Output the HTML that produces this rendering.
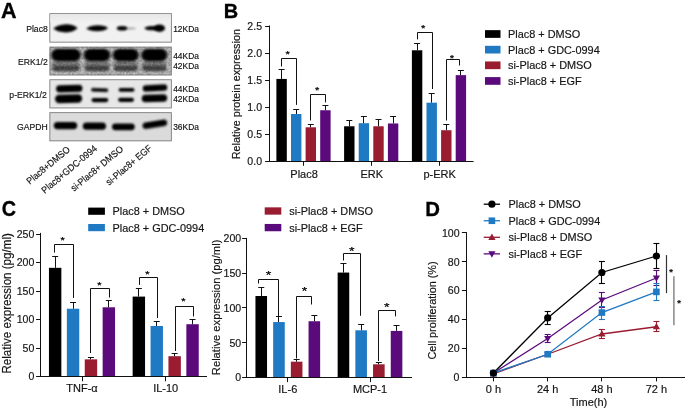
<!DOCTYPE html>
<html><head><meta charset="utf-8"><style>
html,body{margin:0;padding:0;background:#fff;}
svg{display:block;font-family:"Liberation Sans",sans-serif;}
text{filter:grayscale(1);stroke:#151515;stroke-width:0.18px;}
</style></head><body>
<svg width="685" height="410" viewBox="0 0 685 410">
<rect width="685" height="410" fill="#fff"/>
<defs>
<filter id="bl1" x="-30%" y="-100%" width="160%" height="300%"><feGaussianBlur stdDeviation="1.1 1.0"/></filter>
<filter id="bl3" x="-30%" y="-100%" width="160%" height="300%"><feGaussianBlur stdDeviation="1.6 1.3"/></filter>
<filter id="bl2" x="-30%" y="-100%" width="160%" height="300%"><feGaussianBlur stdDeviation="1.8 1.8"/></filter>
<linearGradient id="haze" x1="0" y1="0" x2="0" y2="1"><stop offset="0" stop-color="#e6e6e6"/><stop offset="1" stop-color="#f1f1f1"/></linearGradient>
<filter id="noise" x="0" y="0" width="100%" height="100%"><feTurbulence type="fractalNoise" baseFrequency="0.45" numOctaves="2" seed="3"/><feColorMatrix type="matrix" values="0 0 0 0 0  0 0 0 0 0  0 0 0 0 0  0.0 0 0 0.5 -0.15"/></filter>
</defs>
<text transform="translate(0.9 17.95) scale(1 1)" font-size="21.5" font-weight="bold" fill="#000" style="stroke:#000;stroke-width:0.35px">A</text>
<rect x="49.4" y="13.2" width="122.4" height="29.4" fill="#7a7a7a" />
<rect x="50.3" y="14.1" width="120.6" height="27.6" fill="#f1f1f1" />
<rect x="50.3" y="14.1" width="120.6" height="8" fill="url(#haze)"/>
<path d="M53.3,28.6 Q58,24.6 66,24.3 Q74,24.3 77.6,28.1 Q74,32.3 66,32.5 Q58,32.4 53.3,28.6Z" fill="#000" filter="url(#bl1)"/>
<path d="M86.2,28.5 Q91,25.3 98,25.3 Q105,25.5 108,28 Q104.5,31.2 97,31.3 Q90,31.2 86.2,28.5Z" fill="#000" filter="url(#bl1)"/>
<ellipse cx="122" cy="28.3" rx="5.2" ry="2.3" fill="#000" opacity="1" filter="url(#bl1)"/>
<ellipse cx="130" cy="28.4" rx="6" ry="1" fill="#000" opacity="0.35" filter="url(#bl1)"/>
<ellipse cx="152" cy="28.2" rx="7.5" ry="2.1" fill="#000" opacity="1" filter="url(#bl1)"/>
<ellipse cx="159.5" cy="28.2" rx="5.5" ry="3.7" fill="#000" opacity="1" filter="url(#bl1)"/>
<rect x="49.4" y="46.6" width="122.4" height="28.9" fill="#7a7a7a" />
<rect x="50.3" y="47.5" width="120.6" height="27.1" fill="#c0c0c0" />
<rect x="52" y="59.55" width="28" height="11.5" rx="5.75" ry="5.75" fill="#6e6e6e" opacity="0.8" filter="url(#bl2)"/>
<rect x="52.5" y="66.1" width="27" height="4.6" rx="2.3" ry="2.3" fill="#3a3a3a" opacity="0.85" filter="url(#bl1)"/>
<rect x="51.2" y="48.9" width="29.6" height="12.2" rx="6.1" ry="6.1" fill="#000" opacity="1" filter="url(#bl3)"/>
<rect x="84.5" y="59.55" width="25" height="11.5" rx="5.75" ry="5.75" fill="#6e6e6e" opacity="0.8" filter="url(#bl2)"/>
<rect x="85" y="66.1" width="24" height="4.6" rx="2.3" ry="2.3" fill="#3a3a3a" opacity="0.85" filter="url(#bl1)"/>
<rect x="83.7" y="48.9" width="26.6" height="12.2" rx="6.1" ry="6.1" fill="#000" opacity="1" filter="url(#bl3)"/>
<rect x="113.5" y="59.55" width="24.5" height="11.5" rx="5.75" ry="5.75" fill="#6e6e6e" opacity="0.8" filter="url(#bl2)"/>
<rect x="114" y="66.1" width="23.5" height="4.6" rx="2.3" ry="2.3" fill="#3a3a3a" opacity="0.85" filter="url(#bl1)"/>
<rect x="112.7" y="48.9" width="26.1" height="12.2" rx="6.1" ry="6.1" fill="#000" opacity="1" filter="url(#bl3)"/>
<rect x="142" y="59.55" width="24.5" height="11.5" rx="5.75" ry="5.75" fill="#6e6e6e" opacity="0.8" filter="url(#bl2)"/>
<rect x="142.5" y="66.1" width="23.5" height="4.6" rx="2.3" ry="2.3" fill="#3a3a3a" opacity="0.85" filter="url(#bl1)"/>
<rect x="141.2" y="48.9" width="26.1" height="12.2" rx="6.1" ry="6.1" fill="#000" opacity="1" filter="url(#bl3)"/>
<rect x="50.3" y="47.5" width="120.6" height="27.1" filter="url(#noise)"/>
<rect x="49.4" y="79.3" width="122.4" height="29.1" fill="#7a7a7a" />
<rect x="50.3" y="80.2" width="120.6" height="27.3" fill="#e7e7e7" />
<rect x="56" y="85" width="26.5" height="7.2" rx="3.6" ry="3.6" fill="#000" opacity="1" filter="url(#bl1)" transform="rotate(-1.5 69.25 88.6)"/>
<rect x="55" y="94.5" width="27.2" height="8.4" rx="4.2" ry="4.2" fill="#000" opacity="1" filter="url(#bl1)" transform="rotate(-1.5 68.6 98.7)"/>
<rect x="91" y="88.2" width="17.3" height="3.6" rx="1.8" ry="1.8" fill="#000" opacity="1" filter="url(#bl1)" transform="rotate(2 99.65 90)"/>
<rect x="91.5" y="98" width="16.8" height="4.2" rx="2.1" ry="2.1" fill="#000" opacity="1" filter="url(#bl1)"/>
<rect x="118.6" y="88.1" width="15.9" height="3.6" rx="1.8" ry="1.8" fill="#000" opacity="1" filter="url(#bl1)"/>
<rect x="118.1" y="97.7" width="15.9" height="4.2" rx="2.1" ry="2.1" fill="#000" opacity="1" filter="url(#bl1)"/>
<rect x="142.7" y="84.7" width="24.6" height="6.6" rx="3.3" ry="3.3" fill="#000" opacity="1" filter="url(#bl1)" transform="rotate(-3 155 88)"/>
<rect x="141.7" y="94.4" width="25.5" height="7.6" rx="3.8" ry="3.8" fill="#000" opacity="1" filter="url(#bl1)" transform="rotate(-1.5 154.45 98.2)"/>
<rect x="49.4" y="112.2" width="122.4" height="29.1" fill="#7a7a7a" />
<rect x="50.3" y="113.1" width="120.6" height="27.3" fill="#dbdbdb" />
<rect x="53.8" y="122" width="23.4" height="7.2" rx="3.6" ry="3.6" fill="#000" opacity="1" filter="url(#bl1)"/>
<rect x="82.8" y="122.6" width="23.2" height="7.2" rx="3.6" ry="3.6" fill="#000" opacity="1" filter="url(#bl1)"/>
<rect x="112" y="123.4" width="22.8" height="6.8" rx="3.4" ry="3.4" fill="#000" opacity="1" filter="url(#bl1)"/>
<rect x="142.5" y="121" width="24.7" height="6.4" rx="3.2" ry="3.2" fill="#000" opacity="1" filter="url(#bl1)" transform="rotate(-9 154.85 124.2)"/>
<text transform="translate(47.8 32.1) scale(0.91 1)" font-size="9.5" text-anchor="end" fill="#151515">Plac8</text>
<text transform="translate(47.8 64.6) scale(0.91 1)" font-size="9.5" text-anchor="end" fill="#151515">ERK1/2</text>
<text transform="translate(46.8 98.0) scale(0.91 1)" font-size="9.5" text-anchor="end" fill="#151515">p-ERK1/2</text>
<text transform="translate(47.8 129.65) scale(0.91 1)" font-size="9.5" text-anchor="end" fill="#151515">GAPDH</text>
<text transform="translate(173.2 32) scale(0.955 1)" font-size="8.8" fill="#151515">12KDa</text>
<text transform="translate(173.2 58.7) scale(0.955 1)" font-size="8.8" fill="#151515">44KDa</text>
<text transform="translate(173.2 68.5) scale(0.955 1)" font-size="8.8" fill="#151515">42KDa</text>
<text transform="translate(173.2 91.6) scale(0.955 1)" font-size="8.8" fill="#151515">44KDa</text>
<text transform="translate(173.2 102.3) scale(0.955 1)" font-size="8.8" fill="#151515">42KDa</text>
<text transform="translate(173.2 129.5) scale(0.955 1)" font-size="8.8" fill="#151515">36KDa</text>
<text transform="translate(70.7 150.5) rotate(-40) scale(0.925 1)" font-size="9.5" text-anchor="end" fill="#151515">Plac8+DMSO</text>
<text transform="translate(97.7 149.5) rotate(-40) scale(0.925 1)" font-size="9.5" text-anchor="end" fill="#151515">Plac8+GDC-0994</text>
<text transform="translate(123.9 150) rotate(-40) scale(0.925 1)" font-size="9.5" text-anchor="end" fill="#151515">si-Plac8+ DMSO</text>
<text transform="translate(152.6 149.2) rotate(-40) scale(0.925 1)" font-size="9.5" text-anchor="end" fill="#151515">si-Plac8+ EGF</text>
<text transform="translate(223.77 17.55) scale(0.95 1)" font-size="21" font-weight="bold" fill="#000" style="stroke:#000;stroke-width:0.35px">B</text>
<line x1="269.5" y1="25.5" x2="269.5" y2="161.5" stroke="#111" stroke-width="1"/>
<line x1="265.1" y1="161.5" x2="269.6" y2="161.5" stroke="#111" stroke-width="1"/>
<text transform="translate(262 164.9) scale(0.96 1)" font-size="11" text-anchor="end" fill="#151515">0.0</text>
<line x1="265.1" y1="134.5" x2="269.6" y2="134.5" stroke="#111" stroke-width="1"/>
<text transform="translate(262 137.9) scale(0.96 1)" font-size="11" text-anchor="end" fill="#151515">0.5</text>
<line x1="265.1" y1="107.5" x2="269.6" y2="107.5" stroke="#111" stroke-width="1"/>
<text transform="translate(262 110.9) scale(0.96 1)" font-size="11" text-anchor="end" fill="#151515">1.0</text>
<line x1="265.1" y1="80.5" x2="269.6" y2="80.5" stroke="#111" stroke-width="1"/>
<text transform="translate(262 83.9) scale(0.96 1)" font-size="11" text-anchor="end" fill="#151515">1.5</text>
<line x1="265.1" y1="53.5" x2="269.6" y2="53.5" stroke="#111" stroke-width="1"/>
<text transform="translate(262 56.9) scale(0.96 1)" font-size="11" text-anchor="end" fill="#151515">2.0</text>
<line x1="265.1" y1="26.5" x2="269.6" y2="26.5" stroke="#111" stroke-width="1"/>
<text transform="translate(262 29.9) scale(0.96 1)" font-size="11" text-anchor="end" fill="#151515">2.5</text>
<rect x="276.4" y="78.92" width="10.4" height="82.08" fill="#000000" />
<line x1="281.5" y1="69.74" x2="281.5" y2="78.92" stroke="#111" stroke-width="1"/>
<line x1="278.6" y1="69.5" x2="284.6" y2="69.5" stroke="#111" stroke-width="1"/>
<rect x="291" y="114.02" width="10.4" height="46.98" fill="#1f7ac3" />
<line x1="296.5" y1="109.16" x2="296.5" y2="114.02" stroke="#111" stroke-width="1"/>
<line x1="293.2" y1="109.5" x2="299.2" y2="109.5" stroke="#111" stroke-width="1"/>
<rect x="305.6" y="127.3" width="10.4" height="33.7" fill="#9a1c31" />
<line x1="310.5" y1="124.82" x2="310.5" y2="127.3" stroke="#111" stroke-width="1"/>
<line x1="307.8" y1="124.5" x2="313.8" y2="124.5" stroke="#111" stroke-width="1"/>
<rect x="320.2" y="110.24" width="10.4" height="50.76" fill="#5b0a7c" />
<line x1="325.5" y1="105.92" x2="325.5" y2="110.24" stroke="#111" stroke-width="1"/>
<line x1="322.4" y1="105.5" x2="328.4" y2="105.5" stroke="#111" stroke-width="1"/>
<rect x="344.1" y="126.28" width="10.4" height="34.72" fill="#000000" />
<line x1="349.5" y1="120.88" x2="349.5" y2="126.28" stroke="#111" stroke-width="1"/>
<line x1="346.3" y1="120.5" x2="352.3" y2="120.5" stroke="#111" stroke-width="1"/>
<rect x="358.7" y="123.2" width="10.4" height="37.8" fill="#1f7ac3" />
<line x1="363.5" y1="116.18" x2="363.5" y2="123.2" stroke="#111" stroke-width="1"/>
<line x1="360.9" y1="116.5" x2="366.9" y2="116.5" stroke="#111" stroke-width="1"/>
<rect x="373.3" y="126.28" width="10.4" height="34.72" fill="#9a1c31" />
<line x1="378.5" y1="119.8" x2="378.5" y2="126.28" stroke="#111" stroke-width="1"/>
<line x1="375.5" y1="119.5" x2="381.5" y2="119.5" stroke="#111" stroke-width="1"/>
<rect x="387.9" y="123.47" width="10.4" height="37.53" fill="#5b0a7c" />
<line x1="393.5" y1="116.99" x2="393.5" y2="123.47" stroke="#111" stroke-width="1"/>
<line x1="390.1" y1="116.5" x2="396.1" y2="116.5" stroke="#111" stroke-width="1"/>
<rect x="411.9" y="50.3" width="10.4" height="110.7" fill="#000000" />
<line x1="417.5" y1="43.82" x2="417.5" y2="50.3" stroke="#111" stroke-width="1"/>
<line x1="414.1" y1="43.5" x2="420.1" y2="43.5" stroke="#111" stroke-width="1"/>
<rect x="426.5" y="102.68" width="10.4" height="58.32" fill="#1f7ac3" />
<line x1="431.5" y1="93.5" x2="431.5" y2="102.68" stroke="#111" stroke-width="1"/>
<line x1="428.7" y1="93.5" x2="434.7" y2="93.5" stroke="#111" stroke-width="1"/>
<rect x="441.1" y="130.22" width="10.4" height="30.78" fill="#9a1c31" />
<line x1="446.5" y1="124.82" x2="446.5" y2="130.22" stroke="#111" stroke-width="1"/>
<line x1="443.3" y1="124.5" x2="449.3" y2="124.5" stroke="#111" stroke-width="1"/>
<rect x="455.7" y="75.14" width="10.4" height="85.86" fill="#5b0a7c" />
<line x1="460.5" y1="70.28" x2="460.5" y2="75.14" stroke="#111" stroke-width="1"/>
<line x1="457.9" y1="70.5" x2="463.9" y2="70.5" stroke="#111" stroke-width="1"/>
<line x1="269.1" y1="161.5" x2="473.6" y2="161.5" stroke="#111" stroke-width="1"/>
<line x1="303.5" y1="161" x2="303.5" y2="165.8" stroke="#111" stroke-width="1"/>
<text x="304.1" y="177.9" font-size="11" text-anchor="middle" fill="#151515" >Plac8</text>
<line x1="371.5" y1="161" x2="371.5" y2="165.8" stroke="#111" stroke-width="1"/>
<text x="371.8" y="177.9" font-size="11" text-anchor="middle" fill="#151515" >ERK</text>
<line x1="439.5" y1="161" x2="439.5" y2="165.8" stroke="#111" stroke-width="1"/>
<text x="439.6" y="177.9" font-size="11" text-anchor="middle" fill="#151515" >p-ERK</text>
<polyline points="281.5,66.5 281.5,58.5 296.5,58.5 296.5,104.9" fill="none" stroke="#111" stroke-width="1"/>
<text transform="translate(287.6 52.5) scale(1 0.8)" y="5.73" font-size="11.2" text-anchor="middle" fill="#000" style="stroke:#000;stroke-width:0.3px">*</text>
<polyline points="310.5,120.5 310.5,94.5 325.5,94.5 325.5,102.4" fill="none" stroke="#111" stroke-width="1"/>
<text transform="translate(317.1 88.3) scale(1 0.8)" y="5.73" font-size="11.2" text-anchor="middle" fill="#000" style="stroke:#000;stroke-width:0.3px">*</text>
<polyline points="417.5,39.4 417.5,32.5 432.5,32.5 432.5,89" fill="none" stroke="#111" stroke-width="1"/>
<text transform="translate(423.2 26.2) scale(1 0.8)" y="5.73" font-size="11.2" text-anchor="middle" fill="#000" style="stroke:#000;stroke-width:0.3px">*</text>
<polyline points="446.5,120.5 446.5,59.5 459.5,59.5 459.5,65.5" fill="none" stroke="#111" stroke-width="1"/>
<text transform="translate(451.9 56.5) scale(1 0.8)" y="5.73" font-size="11.2" text-anchor="middle" fill="#000" style="stroke:#000;stroke-width:0.3px">*</text>
<text font-size="10.8" text-anchor="middle" fill="#151515" transform="translate(240.4 94.2) rotate(-90) scale(1 1)">Relative protein expression</text>
<rect x="485" y="30.15" width="15.5" height="7.7" fill="#000000" />
<text x="508" y="37.9" font-size="10.9" text-anchor="start" fill="#151515" >Plac8 + DMSO</text>
<rect x="485" y="45.8" width="15.5" height="7.7" fill="#1f7ac3" />
<text x="508" y="53.55" font-size="10.9" text-anchor="start" fill="#151515" >Plac8 + GDC-0994</text>
<rect x="485" y="61.45" width="15.5" height="7.7" fill="#9a1c31" />
<text x="508" y="69.2" font-size="10.9" text-anchor="start" fill="#151515" >si-Plac8 + DMSO</text>
<rect x="485" y="77.1" width="15.5" height="7.7" fill="#5b0a7c" />
<text x="508" y="84.85" font-size="10.9" text-anchor="start" fill="#151515" >si-Plac8 + EGF</text>
<text transform="translate(1.85 216.1) scale(0.88 1)" font-size="22.5" font-weight="bold" fill="#000" style="stroke:#000;stroke-width:0.35px">C</text>
<line x1="40.5" y1="232.9" x2="40.5" y2="377" stroke="#111" stroke-width="1"/>
<line x1="36.1" y1="376.5" x2="40.6" y2="376.5" stroke="#111" stroke-width="1"/>
<text transform="translate(34.3 380.4) scale(0.96 1)" font-size="11" text-anchor="end" fill="#151515">0</text>
<line x1="36.1" y1="348.5" x2="40.6" y2="348.5" stroke="#111" stroke-width="1"/>
<text transform="translate(34.3 351.9) scale(0.96 1)" font-size="11" text-anchor="end" fill="#151515">50</text>
<line x1="36.1" y1="319.5" x2="40.6" y2="319.5" stroke="#111" stroke-width="1"/>
<text transform="translate(34.3 323.4) scale(0.96 1)" font-size="11" text-anchor="end" fill="#151515">100</text>
<line x1="36.1" y1="291.5" x2="40.6" y2="291.5" stroke="#111" stroke-width="1"/>
<text transform="translate(34.3 294.9) scale(0.96 1)" font-size="11" text-anchor="end" fill="#151515">150</text>
<line x1="36.1" y1="262.5" x2="40.6" y2="262.5" stroke="#111" stroke-width="1"/>
<text transform="translate(34.3 266.4) scale(0.96 1)" font-size="11" text-anchor="end" fill="#151515">200</text>
<line x1="36.1" y1="234.5" x2="40.6" y2="234.5" stroke="#111" stroke-width="1"/>
<text transform="translate(34.3 237.9) scale(0.96 1)" font-size="11" text-anchor="end" fill="#151515">250</text>
<rect x="48.95" y="267.82" width="12.4" height="108.68" fill="#000000" />
<line x1="55.5" y1="256.95" x2="55.5" y2="267.82" stroke="#111" stroke-width="1"/>
<line x1="52.15" y1="256.5" x2="58.15" y2="256.5" stroke="#111" stroke-width="1"/>
<rect x="66.85" y="308.72" width="12.4" height="67.78" fill="#1f7ac3" />
<line x1="73.5" y1="302.14" x2="73.5" y2="308.72" stroke="#111" stroke-width="1"/>
<line x1="70.05" y1="302.5" x2="76.05" y2="302.5" stroke="#111" stroke-width="1"/>
<rect x="84.75" y="359.34" width="12.4" height="17.16" fill="#9a1c31" />
<line x1="90.5" y1="357.4" x2="90.5" y2="359.34" stroke="#111" stroke-width="1"/>
<line x1="87.95" y1="357.5" x2="93.95" y2="357.5" stroke="#111" stroke-width="1"/>
<rect x="102.65" y="307.29" width="12.4" height="69.21" fill="#5b0a7c" />
<line x1="108.5" y1="301" x2="108.5" y2="307.29" stroke="#111" stroke-width="1"/>
<line x1="105.85" y1="300.5" x2="111.85" y2="300.5" stroke="#111" stroke-width="1"/>
<rect x="132.65" y="296.59" width="12.4" height="79.91" fill="#000000" />
<line x1="138.5" y1="288.41" x2="138.5" y2="296.59" stroke="#111" stroke-width="1"/>
<line x1="135.85" y1="288.5" x2="141.85" y2="288.5" stroke="#111" stroke-width="1"/>
<rect x="150.55" y="325.99" width="12.4" height="50.51" fill="#1f7ac3" />
<line x1="156.5" y1="321.59" x2="156.5" y2="325.99" stroke="#111" stroke-width="1"/>
<line x1="153.75" y1="321.5" x2="159.75" y2="321.5" stroke="#111" stroke-width="1"/>
<rect x="168.45" y="356.19" width="12.4" height="20.31" fill="#9a1c31" />
<line x1="174.5" y1="353.79" x2="174.5" y2="356.19" stroke="#111" stroke-width="1"/>
<line x1="171.65" y1="353.5" x2="177.65" y2="353.5" stroke="#111" stroke-width="1"/>
<rect x="186.35" y="324.22" width="12.4" height="52.28" fill="#5b0a7c" />
<line x1="192.5" y1="319.13" x2="192.5" y2="324.22" stroke="#111" stroke-width="1"/>
<line x1="189.55" y1="319.5" x2="195.55" y2="319.5" stroke="#111" stroke-width="1"/>
<line x1="40.1" y1="376.5" x2="207" y2="376.5" stroke="#111" stroke-width="1"/>
<line x1="82.5" y1="376.5" x2="82.5" y2="381.3" stroke="#111" stroke-width="1"/>
<text x="82" y="392" font-size="11" text-anchor="middle" fill="#151515" >TNF-α</text>
<line x1="165.5" y1="376.5" x2="165.5" y2="381.3" stroke="#111" stroke-width="1"/>
<text x="165.7" y="392" font-size="11" text-anchor="middle" fill="#151515" >IL-10</text>
<polyline points="54.5,252.6 54.5,244.5 73.5,244.5 73.5,298" fill="none" stroke="#111" stroke-width="1"/>
<text transform="translate(62.6 238.3) scale(1 0.8)" y="5.63" font-size="11" text-anchor="middle" fill="#000" style="stroke:#000;stroke-width:0.3px">*</text>
<polyline points="90.5,353 90.5,288.5 109.5,288.5 109.5,297.5" fill="none" stroke="#111" stroke-width="1"/>
<text transform="translate(99.4 283) scale(1 0.8)" y="5.63" font-size="11" text-anchor="middle" fill="#000" style="stroke:#000;stroke-width:0.3px">*</text>
<polyline points="139.5,284.9 139.5,277.5 157.5,277.5 157.5,318" fill="none" stroke="#111" stroke-width="1"/>
<text transform="translate(147.4 272.4) scale(1 0.8)" y="5.63" font-size="11" text-anchor="middle" fill="#000" style="stroke:#000;stroke-width:0.3px">*</text>
<polyline points="175.5,351 175.5,306.5 193.5,306.5 193.5,316.5" fill="none" stroke="#111" stroke-width="1"/>
<text transform="translate(183.3 299.8) scale(1 0.8)" y="5.63" font-size="11" text-anchor="middle" fill="#000" style="stroke:#000;stroke-width:0.3px">*</text>
<text font-size="12.4" text-anchor="middle" fill="#151515" transform="translate(11.1 303.4) rotate(-90) scale(0.935 1)">Relative expression (pg/ml)</text>
<rect x="88.2" y="207.6" width="16.7" height="7.2" fill="#000000" />
<text x="112.5" y="215.1" font-size="10.9" text-anchor="start" fill="#151515" >Plac8 + DMSO</text>
<rect x="88.2" y="224" width="16.7" height="7.2" fill="#1f7ac3" />
<text x="112.5" y="231.5" font-size="10.9" text-anchor="start" fill="#151515" >Plac8 + GDC-0994</text>
<line x1="246.5" y1="237.9" x2="246.5" y2="377.8" stroke="#111" stroke-width="1"/>
<line x1="242.1" y1="377.5" x2="246.6" y2="377.5" stroke="#111" stroke-width="1"/>
<text transform="translate(241.2 381.2) scale(0.96 1)" font-size="11" text-anchor="end" fill="#151515">0</text>
<line x1="242.1" y1="342.5" x2="246.6" y2="342.5" stroke="#111" stroke-width="1"/>
<text transform="translate(241.2 346.5) scale(0.96 1)" font-size="11" text-anchor="end" fill="#151515">50</text>
<line x1="242.1" y1="307.5" x2="246.6" y2="307.5" stroke="#111" stroke-width="1"/>
<text transform="translate(241.2 311.8) scale(0.96 1)" font-size="11" text-anchor="end" fill="#151515">100</text>
<line x1="242.1" y1="273.5" x2="246.6" y2="273.5" stroke="#111" stroke-width="1"/>
<text transform="translate(241.2 277.1) scale(0.96 1)" font-size="11" text-anchor="end" fill="#151515">150</text>
<line x1="242.1" y1="238.5" x2="246.6" y2="238.5" stroke="#111" stroke-width="1"/>
<text transform="translate(241.2 242.4) scale(0.96 1)" font-size="11" text-anchor="end" fill="#151515">200</text>
<rect x="255.45" y="296.01" width="11.6" height="81.29" fill="#000000" />
<line x1="261.5" y1="287.68" x2="261.5" y2="296.01" stroke="#111" stroke-width="1"/>
<line x1="258.25" y1="287.5" x2="264.25" y2="287.5" stroke="#111" stroke-width="1"/>
<rect x="273.15" y="322.07" width="11.6" height="55.23" fill="#1f7ac3" />
<line x1="278.5" y1="316.38" x2="278.5" y2="322.07" stroke="#111" stroke-width="1"/>
<line x1="275.95" y1="316.5" x2="281.95" y2="316.5" stroke="#111" stroke-width="1"/>
<rect x="290.85" y="361.69" width="11.6" height="15.61" fill="#9a1c31" />
<line x1="296.5" y1="359.61" x2="296.5" y2="361.69" stroke="#111" stroke-width="1"/>
<line x1="293.65" y1="359.5" x2="299.65" y2="359.5" stroke="#111" stroke-width="1"/>
<rect x="308.55" y="321.24" width="11.6" height="56.06" fill="#5b0a7c" />
<line x1="314.5" y1="315.14" x2="314.5" y2="321.24" stroke="#111" stroke-width="1"/>
<line x1="311.35" y1="315.5" x2="317.35" y2="315.5" stroke="#111" stroke-width="1"/>
<rect x="337.65" y="272.57" width="11.6" height="104.73" fill="#000000" />
<line x1="343.5" y1="263.06" x2="343.5" y2="272.57" stroke="#111" stroke-width="1"/>
<line x1="340.45" y1="263.5" x2="346.45" y2="263.5" stroke="#111" stroke-width="1"/>
<rect x="355.35" y="330.3" width="11.6" height="47" fill="#1f7ac3" />
<line x1="361.5" y1="324.75" x2="361.5" y2="330.3" stroke="#111" stroke-width="1"/>
<line x1="358.15" y1="324.5" x2="364.15" y2="324.5" stroke="#111" stroke-width="1"/>
<rect x="373.05" y="364.32" width="11.6" height="12.98" fill="#9a1c31" />
<line x1="378.5" y1="362.1" x2="378.5" y2="364.32" stroke="#111" stroke-width="1"/>
<line x1="375.85" y1="362.5" x2="381.85" y2="362.5" stroke="#111" stroke-width="1"/>
<rect x="390.75" y="330.92" width="11.6" height="46.38" fill="#5b0a7c" />
<line x1="396.5" y1="325.44" x2="396.5" y2="330.92" stroke="#111" stroke-width="1"/>
<line x1="393.55" y1="325.5" x2="399.55" y2="325.5" stroke="#111" stroke-width="1"/>
<line x1="246.1" y1="377.5" x2="412" y2="377.5" stroke="#111" stroke-width="1"/>
<line x1="287.5" y1="377.3" x2="287.5" y2="382.1" stroke="#111" stroke-width="1"/>
<text x="287.8" y="392.5" font-size="11" text-anchor="middle" fill="#151515" >IL-6</text>
<line x1="370.5" y1="377.3" x2="370.5" y2="382.1" stroke="#111" stroke-width="1"/>
<text x="370" y="392.5" font-size="11" text-anchor="middle" fill="#151515" >MCP-1</text>
<polyline points="258.5,283.5 258.5,279.5 278.5,279.5 278.5,316" fill="none" stroke="#111" stroke-width="1"/>
<text transform="translate(268.5 273.3) scale(1 0.8)" y="7.27" font-size="14.2" text-anchor="middle" fill="#000" style="stroke:#000;stroke-width:0.3px">*</text>
<polyline points="296.5,358.5 296.5,296.5 311.5,296.5 311.5,304.5" fill="none" stroke="#111" stroke-width="1"/>
<text transform="translate(304.6 289.1) scale(1 0.8)" y="7.27" font-size="14.2" text-anchor="middle" fill="#000" style="stroke:#000;stroke-width:0.3px">*</text>
<polyline points="343.5,260.5 343.5,253.5 360.5,253.5 360.5,315.8" fill="none" stroke="#111" stroke-width="1"/>
<text transform="translate(351.8 249.2) scale(1 0.8)" y="7.27" font-size="14.2" text-anchor="middle" fill="#000" style="stroke:#000;stroke-width:0.3px">*</text>
<polyline points="378.5,361 378.5,310.5 395.5,310.5 395.5,316.4" fill="none" stroke="#111" stroke-width="1"/>
<text transform="translate(386.8 305.6) scale(1 0.8)" y="7.27" font-size="14.2" text-anchor="middle" fill="#000" style="stroke:#000;stroke-width:0.3px">*</text>
<text font-size="11.2" text-anchor="middle" fill="#151515" transform="translate(220 307.4) rotate(-90) scale(1 1)">Relative expression (pg/ml)</text>
<rect x="264.7" y="207.35" width="16.6" height="7.3" fill="#9a1c31" />
<text x="289.2" y="214.9" font-size="10.9" text-anchor="start" fill="#151515" >si-Plac8 + DMSO</text>
<rect x="264.7" y="223.95" width="16.6" height="7.3" fill="#5b0a7c" />
<text x="289.2" y="231.5" font-size="10.9" text-anchor="start" fill="#151515" >si-Plac8 + EGF</text>
<text transform="translate(425.34 215.65) scale(0.97 1)" font-size="21" font-weight="bold" fill="#000" style="stroke:#000;stroke-width:0.35px">D</text>
<line x1="466.5" y1="232.2" x2="466.5" y2="377.9" stroke="#111" stroke-width="1"/>
<line x1="461.9" y1="377.5" x2="466.5" y2="377.5" stroke="#111" stroke-width="1"/>
<text transform="translate(459.5 381.3) scale(0.96 1)" font-size="11" text-anchor="end" fill="#151515">0</text>
<line x1="461.9" y1="348.5" x2="466.5" y2="348.5" stroke="#111" stroke-width="1"/>
<text transform="translate(459.5 352.36) scale(0.96 1)" font-size="11" text-anchor="end" fill="#151515">20</text>
<line x1="461.9" y1="319.5" x2="466.5" y2="319.5" stroke="#111" stroke-width="1"/>
<text transform="translate(459.5 323.42) scale(0.96 1)" font-size="11" text-anchor="end" fill="#151515">40</text>
<line x1="461.9" y1="290.5" x2="466.5" y2="290.5" stroke="#111" stroke-width="1"/>
<text transform="translate(459.5 294.48) scale(0.96 1)" font-size="11" text-anchor="end" fill="#151515">60</text>
<line x1="461.9" y1="261.5" x2="466.5" y2="261.5" stroke="#111" stroke-width="1"/>
<text transform="translate(459.5 265.54) scale(0.96 1)" font-size="11" text-anchor="end" fill="#151515">80</text>
<line x1="461.9" y1="232.5" x2="466.5" y2="232.5" stroke="#111" stroke-width="1"/>
<text transform="translate(459.5 236.6) scale(0.96 1)" font-size="11" text-anchor="end" fill="#151515">100</text>
<line x1="466" y1="377.5" x2="685" y2="377.5" stroke="#111" stroke-width="1"/>
<line x1="493.5" y1="377.4" x2="493.5" y2="381.4" stroke="#111" stroke-width="1"/>
<text x="493.4" y="392.9" font-size="11" text-anchor="middle" fill="#151515" >0 h</text>
<line x1="547.5" y1="377.4" x2="547.5" y2="381.4" stroke="#111" stroke-width="1"/>
<text x="547.7" y="392.9" font-size="11" text-anchor="middle" fill="#151515" >24 h</text>
<line x1="601.5" y1="377.4" x2="601.5" y2="381.4" stroke="#111" stroke-width="1"/>
<text x="601.9" y="392.9" font-size="11" text-anchor="middle" fill="#151515" >48 h</text>
<line x1="656.5" y1="377.4" x2="656.5" y2="381.4" stroke="#111" stroke-width="1"/>
<text x="656.4" y="392.9" font-size="11" text-anchor="middle" fill="#151515" >72 h</text>
<text x="588.5" y="406" font-size="11" text-anchor="middle" fill="#151515" >Time(h)</text>
<text font-size="10.85" text-anchor="middle" fill="#151515" transform="translate(435.5 310.5) rotate(-90) scale(1 1)">Cell proliferation (%)</text>
<polyline points="493.4,373.78 547.7,354.25 601.9,333.99 656.4,326.75" fill="none" stroke="#9a1c31" stroke-width="1.3"/>
<line x1="493.5" y1="372.62" x2="493.5" y2="374.94" stroke="#9a1c31" stroke-width="1.1"/>
<line x1="490.4" y1="372.5" x2="496.4" y2="372.5" stroke="#9a1c31" stroke-width="1.1"/>
<line x1="490.4" y1="374.5" x2="496.4" y2="374.5" stroke="#9a1c31" stroke-width="1.1"/>
<line x1="547.5" y1="352.51" x2="547.5" y2="355.98" stroke="#9a1c31" stroke-width="1.1"/>
<line x1="544.7" y1="352.5" x2="550.7" y2="352.5" stroke="#9a1c31" stroke-width="1.1"/>
<line x1="544.7" y1="355.5" x2="550.7" y2="355.5" stroke="#9a1c31" stroke-width="1.1"/>
<line x1="601.5" y1="329.5" x2="601.5" y2="338.48" stroke="#9a1c31" stroke-width="1.1"/>
<line x1="598.9" y1="329.5" x2="604.9" y2="329.5" stroke="#9a1c31" stroke-width="1.1"/>
<line x1="598.9" y1="338.5" x2="604.9" y2="338.5" stroke="#9a1c31" stroke-width="1.1"/>
<line x1="656.5" y1="321.69" x2="656.5" y2="331.82" stroke="#9a1c31" stroke-width="1.1"/>
<line x1="653.4" y1="321.5" x2="659.4" y2="321.5" stroke="#9a1c31" stroke-width="1.1"/>
<line x1="653.4" y1="331.5" x2="659.4" y2="331.5" stroke="#9a1c31" stroke-width="1.1"/>
<polyline points="493.4,373.06 547.7,338.48 601.9,299.99 656.4,277.99" fill="none" stroke="#5b0a7c" stroke-width="1.3"/>
<line x1="493.5" y1="371.61" x2="493.5" y2="374.51" stroke="#5b0a7c" stroke-width="1.1"/>
<line x1="490.4" y1="371.5" x2="496.4" y2="371.5" stroke="#5b0a7c" stroke-width="1.1"/>
<line x1="490.4" y1="374.5" x2="496.4" y2="374.5" stroke="#5b0a7c" stroke-width="1.1"/>
<line x1="547.5" y1="334.28" x2="547.5" y2="342.67" stroke="#5b0a7c" stroke-width="1.1"/>
<line x1="544.7" y1="334.5" x2="550.7" y2="334.5" stroke="#5b0a7c" stroke-width="1.1"/>
<line x1="544.7" y1="342.5" x2="550.7" y2="342.5" stroke="#5b0a7c" stroke-width="1.1"/>
<line x1="601.5" y1="292.75" x2="601.5" y2="307.22" stroke="#5b0a7c" stroke-width="1.1"/>
<line x1="598.9" y1="292.5" x2="604.9" y2="292.5" stroke="#5b0a7c" stroke-width="1.1"/>
<line x1="598.9" y1="307.5" x2="604.9" y2="307.5" stroke="#5b0a7c" stroke-width="1.1"/>
<line x1="656.5" y1="270.76" x2="656.5" y2="285.23" stroke="#5b0a7c" stroke-width="1.1"/>
<line x1="653.4" y1="270.5" x2="659.4" y2="270.5" stroke="#5b0a7c" stroke-width="1.1"/>
<line x1="653.4" y1="285.5" x2="659.4" y2="285.5" stroke="#5b0a7c" stroke-width="1.1"/>
<polyline points="493.4,373.06 547.7,354.25 601.9,312.57 656.4,291.88" fill="none" stroke="#1f7ac3" stroke-width="1.3"/>
<line x1="493.5" y1="371.61" x2="493.5" y2="374.51" stroke="#1f7ac3" stroke-width="1.1"/>
<line x1="490.4" y1="371.5" x2="496.4" y2="371.5" stroke="#1f7ac3" stroke-width="1.1"/>
<line x1="490.4" y1="374.5" x2="496.4" y2="374.5" stroke="#1f7ac3" stroke-width="1.1"/>
<line x1="547.5" y1="352.51" x2="547.5" y2="355.98" stroke="#1f7ac3" stroke-width="1.1"/>
<line x1="544.7" y1="352.5" x2="550.7" y2="352.5" stroke="#1f7ac3" stroke-width="1.1"/>
<line x1="544.7" y1="355.5" x2="550.7" y2="355.5" stroke="#1f7ac3" stroke-width="1.1"/>
<line x1="601.5" y1="306.06" x2="601.5" y2="319.09" stroke="#1f7ac3" stroke-width="1.1"/>
<line x1="598.9" y1="306.5" x2="604.9" y2="306.5" stroke="#1f7ac3" stroke-width="1.1"/>
<line x1="598.9" y1="319.5" x2="604.9" y2="319.5" stroke="#1f7ac3" stroke-width="1.1"/>
<line x1="656.5" y1="283.06" x2="656.5" y2="300.71" stroke="#1f7ac3" stroke-width="1.1"/>
<line x1="653.4" y1="283.5" x2="659.4" y2="283.5" stroke="#1f7ac3" stroke-width="1.1"/>
<line x1="653.4" y1="300.5" x2="659.4" y2="300.5" stroke="#1f7ac3" stroke-width="1.1"/>
<polyline points="493.4,373.06 547.7,317.93 601.9,272.49 656.4,256" fill="none" stroke="#000000" stroke-width="1.3"/>
<line x1="493.5" y1="371.32" x2="493.5" y2="374.8" stroke="#000000" stroke-width="1.1"/>
<line x1="490.4" y1="371.5" x2="496.4" y2="371.5" stroke="#000000" stroke-width="1.1"/>
<line x1="490.4" y1="374.5" x2="496.4" y2="374.5" stroke="#000000" stroke-width="1.1"/>
<line x1="547.5" y1="311.85" x2="547.5" y2="324.01" stroke="#000000" stroke-width="1.1"/>
<line x1="544.7" y1="311.5" x2="550.7" y2="311.5" stroke="#000000" stroke-width="1.1"/>
<line x1="544.7" y1="324.5" x2="550.7" y2="324.5" stroke="#000000" stroke-width="1.1"/>
<line x1="601.5" y1="261.93" x2="601.5" y2="283.06" stroke="#000000" stroke-width="1.1"/>
<line x1="598.9" y1="261.5" x2="604.9" y2="261.5" stroke="#000000" stroke-width="1.1"/>
<line x1="598.9" y1="283.5" x2="604.9" y2="283.5" stroke="#000000" stroke-width="1.1"/>
<line x1="656.5" y1="243.99" x2="656.5" y2="268.01" stroke="#000000" stroke-width="1.1"/>
<line x1="653.4" y1="243.5" x2="659.4" y2="243.5" stroke="#000000" stroke-width="1.1"/>
<line x1="653.4" y1="268.5" x2="659.4" y2="268.5" stroke="#000000" stroke-width="1.1"/>
<polygon points="493.4,369.98 497,376.38 489.8,376.38" fill="#9a1c31"/>
<polygon points="547.7,350.45 551.3,356.85 544.1,356.85" fill="#9a1c31"/>
<polygon points="601.9,330.19 605.5,336.59 598.3,336.59" fill="#9a1c31"/>
<polygon points="656.4,322.95 660,329.36 652.8,329.36" fill="#9a1c31"/>
<polygon points="493.4,376.86 497,370.46 489.8,370.46" fill="#5b0a7c"/>
<polygon points="547.7,342.28 551.3,335.88 544.1,335.88" fill="#5b0a7c"/>
<polygon points="601.9,303.79 605.5,297.39 598.3,297.39" fill="#5b0a7c"/>
<polygon points="656.4,281.79 660,275.39 652.8,275.39" fill="#5b0a7c"/>
<rect x="490.1" y="369.76" width="6.6" height="6.6" fill="#1f7ac3" />
<rect x="544.4" y="350.95" width="6.6" height="6.6" fill="#1f7ac3" />
<rect x="598.6" y="309.27" width="6.6" height="6.6" fill="#1f7ac3" />
<rect x="653.1" y="288.58" width="6.6" height="6.6" fill="#1f7ac3" />
<circle cx="493.4" cy="373.06" r="3.6" fill="#000000"/>
<circle cx="547.7" cy="317.93" r="3.6" fill="#000000"/>
<circle cx="601.9" cy="272.49" r="3.6" fill="#000000"/>
<circle cx="656.4" cy="256" r="3.6" fill="#000000"/>
<line x1="666.5" y1="255.1" x2="666.5" y2="293.1" stroke="#333" stroke-width="1.2"/>
<text transform="translate(671 270.2) scale(1 0.8)" y="5.48" font-size="10.7" text-anchor="middle" fill="#000" style="stroke:#000;stroke-width:0.3px">*</text>
<line x1="673.9" y1="276.3" x2="673.9" y2="325.3" stroke="#888" stroke-width="1.5"/>
<text transform="translate(679 301.2) scale(1 0.8)" y="5.48" font-size="10.7" text-anchor="middle" fill="#000" style="stroke:#000;stroke-width:0.3px">*</text>
<line x1="483.7" y1="204.2" x2="500" y2="204.2" stroke="#000000" stroke-width="1.3"/>
<circle cx="491.9" cy="204.2" r="3.6" fill="#000000"/>
<text x="508.5" y="208.1" font-size="10.9" text-anchor="start" fill="#151515" >Plac8 + DMSO</text>
<line x1="483.7" y1="220.75" x2="500" y2="220.75" stroke="#1f7ac3" stroke-width="1.3"/>
<rect x="488.6" y="217.45" width="6.6" height="6.6" fill="#1f7ac3" />
<text x="508.5" y="224.65" font-size="10.9" text-anchor="start" fill="#151515" >Plac8 + GDC-0994</text>
<line x1="483.7" y1="237.3" x2="500" y2="237.3" stroke="#9a1c31" stroke-width="1.3"/>
<polygon points="491.9,233.5 495.5,239.9 488.3,239.9" fill="#9a1c31"/>
<text x="508.5" y="241.2" font-size="10.9" text-anchor="start" fill="#151515" >si-Plac8 + DMSO</text>
<line x1="483.7" y1="253.85" x2="500" y2="253.85" stroke="#5b0a7c" stroke-width="1.3"/>
<polygon points="491.9,257.65 495.5,251.25 488.3,251.25" fill="#5b0a7c"/>
<text x="508.5" y="257.75" font-size="10.9" text-anchor="start" fill="#151515" >si-Plac8 + EGF</text>
</svg>
</body></html>
